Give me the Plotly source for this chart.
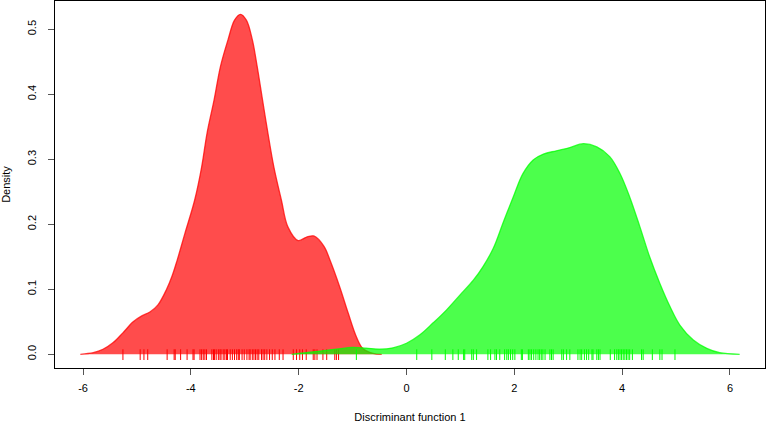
import plotly.graph_objects as go

# Density curve of group 1 (red)
red_x = [-6.05, -5.81, -5.63, -5.44, -5.26, -5.07, -4.91, -4.76, -4.61, -4.45, -4.35, -4.26,
         -4.11, -3.93, -3.80, -3.70, -3.57, -3.45, -3.31, -3.19, -3.08, -2.97, -2.86, -2.77,
         -2.67, -2.57, -2.46, -2.32, -2.20, -2.01, -1.86, -1.72, -1.53, -1.42, -1.24, -1.08,
         -0.93, -0.81, -0.62, -0.46]
red_y = [0.0, 0.0025, 0.0077, 0.018, 0.033, 0.050, 0.059, 0.065, 0.076, 0.100, 0.120, 0.143,
         0.186, 0.237, 0.288, 0.340, 0.391, 0.443, 0.484, 0.514, 0.523, 0.514, 0.484, 0.443,
         0.391, 0.340, 0.288, 0.237, 0.196, 0.175, 0.180, 0.182, 0.166, 0.145, 0.104, 0.063,
         0.027, 0.009, 0.0015, 0.0]

# Density curve of group 2 (green)
green_x = [-2.13, -1.9, -1.6, -1.3, -1.0, -0.75, -0.5, -0.25, 0.0, 0.25, 0.49, 0.74, 0.99,
           1.24, 1.42, 1.61, 1.79, 1.98, 2.16, 2.35, 2.54, 2.78, 3.03, 3.28, 3.53, 3.77,
           3.96, 4.14, 4.33, 4.51, 4.70, 4.89, 5.07, 5.32, 5.57, 5.81, 6.18]
green_y = [0.0, 0.002, 0.005, 0.008, 0.0105, 0.0095, 0.008, 0.010, 0.017, 0.030, 0.048, 0.068,
           0.091, 0.114, 0.135, 0.163, 0.202, 0.242, 0.278, 0.299, 0.308, 0.313, 0.318, 0.324,
           0.319, 0.304, 0.278, 0.242, 0.196, 0.150, 0.109, 0.073, 0.045, 0.022, 0.0092,
           0.0025, 0.0]

# Rug observations
red_rug = [-5.26, -4.94, -4.87, -4.80, -4.44, -4.31, -4.29, -4.19, -4.07, -3.96, -3.94, -3.83,
           -3.80, -3.77, -3.74, -3.71, -3.61, -3.58, -3.56, -3.53, -3.49, -3.46, -3.44, -3.40,
           -3.37, -3.34, -3.32, -3.27, -3.23, -3.19, -3.15, -3.12, -3.10, -3.05, -3.01, -2.96,
           -2.92, -2.90, -2.86, -2.83, -2.80, -2.77, -2.74, -2.69, -2.66, -2.63, -2.59, -2.54,
           -2.49, -2.44, -2.36, -2.29, -2.10, -2.04, -1.98, -1.93, -1.86, -1.73, -1.70, -1.66,
           -1.55, -1.48, -1.33, -1.30, -1.26]
green_rug = [-0.93, 0.19, 0.47, 0.72, 0.86, 0.96, 1.06, 1.08, 1.21, 1.24, 1.30, 1.51, 1.56,
             1.64, 1.67, 1.73, 1.82, 1.86, 1.89, 1.93, 1.97, 2.01, 2.13, 2.15, 2.26, 2.29, 2.32,
             2.36, 2.40, 2.44, 2.47, 2.50, 2.53, 2.57, 2.66, 2.69, 2.72, 2.88, 2.91, 2.97, 3.03,
             3.18, 3.22, 3.25, 3.30, 3.34, 3.38, 3.44, 3.46, 3.53, 3.56, 3.59, 3.78, 3.86, 3.90,
             3.93, 3.96, 3.99, 4.02, 4.05, 4.08, 4.11, 4.14, 4.19, 4.36, 4.39, 4.56, 4.70, 4.74,
             4.98]

x_ticks = [-6, -4, -2, 0, 2, 4, 6]
x_tick_labels = ["-6", "-4", "-2", "0", "2", "4", "6"]
y_ticks = [0.0, 0.1, 0.2, 0.3, 0.4, 0.5]
y_tick_labels = ["0.0", "0.1", "0.2", "0.3", "0.4", "0.5"]

RUG_LO, RUG_HI = -0.0088, 0.0077


def rug_xy(vals):
    xs, ys = [], []
    for v in vals:
        xs += [v, v, None]
        ys += [RUG_LO, RUG_HI, None]
    return xs, ys


fig = go.Figure()
fig.add_trace(go.Scatter(x=red_x, y=red_y, mode="lines", fill="tozeroy",
                         line=dict(color="rgba(255,0,0,0.75)", width=1.3, shape="spline", smoothing=1.0),
                         fillcolor="rgba(255,0,0,0.7)", hoverinfo="skip", showlegend=False))
rx, ry = rug_xy(red_rug)
fig.add_trace(go.Scatter(x=rx, y=ry, mode="lines", line=dict(color="#ff0000", width=1),
                         hoverinfo="skip", showlegend=False))
fig.add_trace(go.Scatter(x=green_x, y=green_y, mode="lines", fill="tozeroy",
                         line=dict(color="rgba(0,255,0,0.75)", width=1.3, shape="spline", smoothing=1.0),
                         fillcolor="rgba(0,255,0,0.7)", hoverinfo="skip", showlegend=False))
gx, gy = rug_xy(green_rug)
fig.add_trace(go.Scatter(x=gx, y=gy, mode="lines", line=dict(color="#00ff00", width=1),
                         hoverinfo="skip", showlegend=False))

font = dict(family="Liberation Sans, Arial, sans-serif", size=11, color="black")
fig.update_layout(
    width=767, height=423,
    margin=dict(l=55, r=2, t=1, b=55, autoexpand=False),
    plot_bgcolor="white", paper_bgcolor="white",
    font=font,
    xaxis=dict(range=[-6.52, 6.65], tickvals=x_ticks, ticktext=x_tick_labels,
               ticks="outside", ticklen=6,
               tickcolor="#555", showline=True, linecolor="black", linewidth=1, mirror=True,
               showgrid=False, zeroline=False, tickfont=font, ticklabelstandoff=4,
               automargin=False,
               title=dict(text="Discriminant function 1", font=font, standoff=21)),
    yaxis=dict(range=[-0.0211, 0.5435], tickvals=y_ticks, ticktext=y_tick_labels,
               ticks="outside", ticklen=6, tickcolor="#555", tickangle=-90,
               showline=True, linecolor="black", linewidth=1, mirror=True,
               showgrid=False, zeroline=False, tickfont=font, ticklabelstandoff=8,
               automargin=False,
               title=dict(text="Density", font=font, standoff=14)),
)

fig.write_html("out.html", config={"displayModeBar": False},
               post_script="document.body.style.margin='0';document.body.style.overflow='hidden';")
